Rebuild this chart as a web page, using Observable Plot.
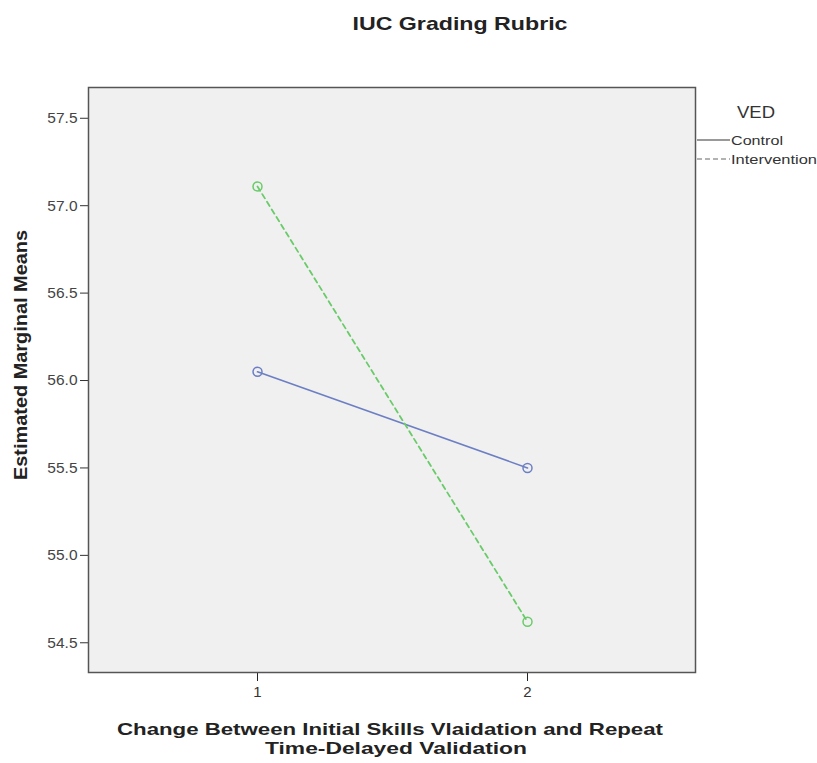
<!DOCTYPE html>
<html>
<head>
<meta charset="utf-8">
<script src="https://cdn.jsdelivr.net/npm/d3@7"></script>
<script src="https://cdn.jsdelivr.net/npm/@observablehq/plot@0.6"></script>
<style>
  body { margin: 0; background: #fff; }
  svg { font-family: "Liberation Sans", Arial, sans-serif; }
</style>
</head>
<body>
<div id="chart"></div>
<script>
const groups = ["Control", "Intervention"];
const times = [1, 2];
const controlMeans = [56.05, 55.50];
const interventionMeans = [57.11, 54.62];
const yTicks = [54.5, 55.0, 55.5, 56.0, 56.5, 57.0, 57.5];
const xTicks = [1, 2];
const colors = ["#6d7fc4", "#6acb6a"];

const data = [];
times.forEach((t, i) => {
  data.push({ group: groups[0], time: t, mean: controlMeans[i] });
  data.push({ group: groups[1], time: t, mean: interventionMeans[i] });
});

const W = 817, H = 763;
const chart = Plot.plot({
  width: W,
  height: H,
  marginLeft: 88,
  marginRight: 122,
  marginTop: 87,
  marginBottom: 91,
  style: { fontFamily: "Liberation Sans, Arial, sans-serif", fontSize: "15px", color: "#333", background: "#fff" },
  x: { type: "point", domain: times, padding: 0.62, label: null },
  y: { domain: [54.33, 57.676], label: null },
  color: { domain: groups, range: colors },
  marks: [
    Plot.frame({ fill: "#f0f0f0", stroke: "none" }),
    Plot.line(data.filter(d => d.group === "Control"), { x: "time", y: "mean", stroke: colors[0], strokeWidth: 1.6 }),
    Plot.line(data.filter(d => d.group === "Intervention"), { x: "time", y: "mean", stroke: colors[1], strokeWidth: 1.8, strokeDasharray: "5,4" }),
    Plot.dot(data, { x: "time", y: "mean", stroke: "group", r: 4.5, strokeWidth: 1.5, fill: "none" }),
    Plot.axisX({ ticks: xTicks, tickSize: 9, tickPadding: 5, stroke: "#222", fill: "#333", fontSize: 15 }),
    Plot.axisY({ ticks: yTicks, tickSize: 8, tickPadding: 3, tickFormat: d => d.toFixed(1), stroke: "#333", fill: "#444", fontSize: 15.5 }),
    Plot.frame({ stroke: "#555", strokeWidth: 1.5 })
  ]
});

const svg = d3.select(chart);
svg.append("text")
  .attr("x", 460).attr("y", 30)
  .attr("text-anchor", "middle")
  .attr("font-weight", "bold").attr("font-size", 19).attr("fill", "#222")
  .attr("textLength", 215).attr("lengthAdjust", "spacingAndGlyphs")
  .text("IUC Grading Rubric");

svg.append("text")
  .attr("transform", "translate(27,355) rotate(-90)")
  .attr("text-anchor", "middle")
  .attr("font-weight", "bold").attr("font-size", 19).attr("fill", "#222")
  .attr("textLength", 250).attr("lengthAdjust", "spacingAndGlyphs")
  .text("Estimated Marginal Means");

svg.append("text")
  .attr("x", 390).attr("y", 735)
  .attr("text-anchor", "middle")
  .attr("font-weight", "bold").attr("font-size", 17).attr("fill", "#222")
  .attr("textLength", 546).attr("lengthAdjust", "spacingAndGlyphs")
  .text("Change Between Initial Skills Vlaidation and Repeat");
svg.append("text")
  .attr("x", 396).attr("y", 754)
  .attr("text-anchor", "middle")
  .attr("font-weight", "bold").attr("font-size", 17).attr("fill", "#222")
  .attr("textLength", 262).attr("lengthAdjust", "spacingAndGlyphs")
  .text("Time-Delayed Validation");

// Legend
const lg = svg.append("g").attr("text-anchor", "start");
lg.append("text").attr("x", 737).attr("y", 118).attr("font-size", 17).attr("fill", "#333")
  .attr("textLength", 38).attr("lengthAdjust", "spacingAndGlyphs").text("VED");
const legendLens = [52, 86];
groups.forEach((g, i) => {
  const y = 140 + i * 19;
  lg.append("line").attr("x1", 697).attr("x2", 730).attr("y1", y).attr("y2", y)
    .attr("stroke", i === 0 ? "#777" : "#999").attr("stroke-width", 1.3)
    .attr("stroke-dasharray", i === 0 ? null : "5,3");
  lg.append("text").attr("x", 731).attr("y", y + 5).attr("font-size", 13.5).attr("fill", "#333")
    .attr("textLength", legendLens[i]).attr("lengthAdjust", "spacingAndGlyphs").text(g);
});

document.getElementById("chart").appendChild(chart);
</script>
</body>
</html>
